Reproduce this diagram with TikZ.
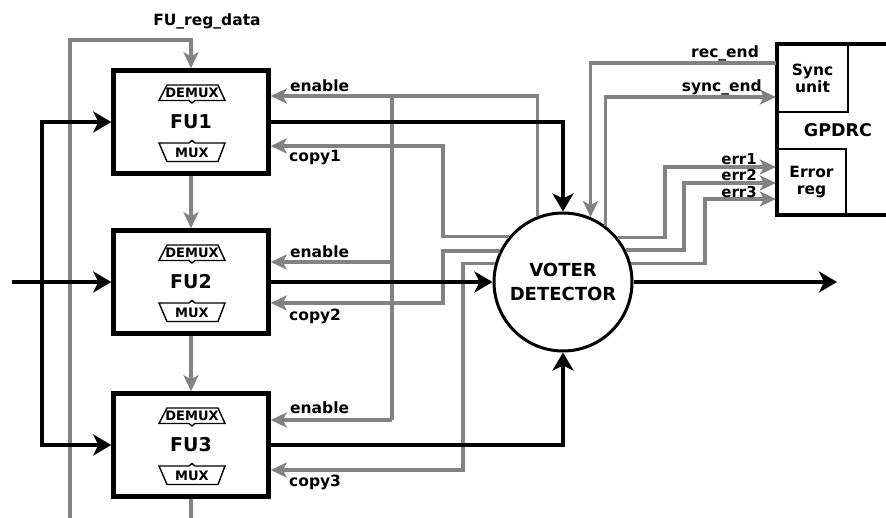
\documentclass[tikz,border=0pt]{standalone}
\usepackage{fontspec}
\setmainfont{DejaVu Sans}
\usetikzlibrary{arrows.meta}
\definecolor{ctl}{RGB}{130,130,130}
\tikzset{
  blk/.style={line width=4.6pt, draw=black},
  blkarr/.style={blk, -{Stealth[length=18pt,width=21pt,inset=5pt]}},
  blkarrtwo/.style={blk, {Stealth[length=18pt,width=21pt,inset=5pt]}-{Stealth[length=18pt,width=21pt,inset=5pt]}},
  ctlline/.style={line width=3.2pt, draw=ctl},
  ctlarr/.style={ctlline, -{Stealth[length=16pt,width=15pt,inset=4pt]}},
  fubox/.style={draw, fill=white, line width=4.5pt, minimum width=155pt, minimum height=103pt, inner sep=0pt,
    font=\bfseries\fontsize{19}{21}\selectfont},
  lbl/.style={font=\bfseries\fontsize{15.5}{17}\selectfont, inner sep=0pt},
  errlbl/.style={font=\bfseries\fontsize{15}{16}\selectfont, inner sep=0pt, anchor=east},
  muxtxt/.style={font=\bfseries\fontsize{13}{14}\selectfont, inner sep=0pt},
  unitbox/.style={draw, fill=white, line width=2.2pt, inner sep=0pt, align=center,
    font=\bfseries\fontsize{15.5}{17}\selectfont},
  fuparts/.pic={
    \draw[line width=1.4pt, fill=white] (-25,-37) -- (26,-37) -- (33,-21.5) -- (3,-21.5) -- (0,-19) -- (-3,-21.5) -- (-33,-21.5) -- cycle;
    \node[muxtxt] (-dmx) at (0,-29) {DEMUX};
    \draw[line width=1.4pt, fill=white] (-33,21) -- (-3,21) -- (0,18.5) -- (3,21) -- (33,21) -- (26,39.5) -- (-25,39.5) -- cycle;
    \node[muxtxt] (-mx) at (0,31) {MUX};
  }
}
\begin{document}
\begin{tikzpicture}[x=1pt,y=-1pt]
\useasboundingbox (0,0) rectangle (886,518);

% functional units
\node[fubox] (fu1) at (191,122) {FU1};
\node[fubox] (fu2) at (191,282) {FU2};
\node[fubox] (fu3) at (191,445) {FU3};
\pic (p1) at (192,122) {fuparts};
\pic (p2) at (192,282) {fuparts};
\pic (p3) at (192,445) {fuparts};

% voter
\node[draw, circle, fill=white, line width=3pt, minimum size=138pt, align=center,
  font=\bfseries\fontsize{18}{24}\selectfont] (vd) at (563,282) {VOTER\\DETECTOR};

% GPDRC
\node[unitbox, minimum width=71pt, minimum height=68pt] (sync) at (812.5,78) {Sync\\unit};
\node[unitbox, minimum width=69pt, minimum height=66pt] (err) at (811.5,182) {Error\\reg};
\draw[line width=4.5pt] (886,44) -- (777,44) -- (777,215) -- (886,215);
\node[font=\bfseries\fontsize{17.5}{19}\selectfont, inner sep=0pt] (gpdrc) at (838,130) {GPDRC};

% coordinates
\coordinate (regB) at (70,518);
\coordinate (regT) at (70,40);
\coordinate (fuout) at (191,518);
\coordinate (enb1) at (392,96);
\coordinate (enb2) at (392,262);
\coordinate (enb3) at (392,420);
\coordinate (cp1) at (443,146);
\coordinate (cp2) at (443,303);
\coordinate (cp3) at (463,470);
\coordinate (re) at (589,63);
\coordinate (se) at (700,97);
\coordinate (e1) at (665,167);
\coordinate (e2) at (684,183);
\coordinate (e3) at (705,199);
\coordinate (inL) at (12,282);
\coordinate (bus1) at (42,122);
\coordinate (bus3) at (42,445);
\coordinate (out) at (837,282);

% gray control lines
\draw[ctlarr] (regB) -- (regT) -| (fu1.north);
\draw[ctlarr] (fu1.south) -- (fu2.north);
\draw[ctlarr] (fu2.south) -- (fu3.north);
\draw[ctlline] (fu3.south) -- (fuout);

\draw[ctlarr] (vd.111.6) |- (fu1.east |- enb1);
\draw[ctlline] (enb1) -- (enb3);
\draw[ctlarr] (enb2) -- (fu2.east |- enb2);
\draw[ctlarr] (enb3) -- (fu3.east |- enb3);

\draw[ctlarr] (vd.140.3) -| (cp1) -- (fu1.east |- cp1);
\draw[ctlarr] (vd.154) -| (cp2) -- (fu2.east |- cp2);
\draw[ctlarr] (vd.165) -| (cp3) -- (fu3.east |- cp3);

\draw[ctlarr] (sync.west |- re) -| (vd.67.8);
\draw[ctlarr] (vd.53.4) |- (sync.west |- se);
\draw[ctlarr] (vd.39.7) -| (e1) -- (err.west |- e1);
\draw[ctlarr] (vd.27) -| (e2) -- (err.west |- e2);
\draw[ctlarr] (vd.15.6) -| (e3) -- (err.west |- e3);

% black data lines
\draw[blkarr] (inL) -- (fu2.west);
\draw[blkarrtwo] (fu1.west) -- (bus1) -- (bus3) -- (fu3.west);
\draw[blkarr] (fu1.east) -| (vd.north);
\draw[blkarr] (fu2.east) -- (vd.west);
\draw[blkarr] (fu3.east) -| (vd.south);
\draw[blkarr] (vd.east) -- (out);

% labels
\node[lbl] (lreg) at (207,21) {FU\_reg\_data};
\node[lbl, anchor=west] (len1) at (290,86) {enable};
\node[lbl, anchor=west] (len2) at (290,252) {enable};
\node[lbl, anchor=west] (len3) at (290,408) {enable};
\node[lbl, anchor=west] (lcp1) at (289,158) {copy1};
\node[lbl, anchor=west] (lcp2) at (289,316) {copy2};
\node[lbl, anchor=west] (lcp3) at (289,482) {copy3};
\node[lbl] (lrec) at (725,53) {rec\_end};
\node[lbl, anchor=east] (lsync) at (762,87) {sync\_end};
\node[errlbl] (lerr1) at (757,159) {err1};
\node[errlbl] (lerr2) at (757,175.5) {err2};
\node[errlbl] (lerr3) at (757,192) {err3};
\end{tikzpicture}
\end{document}
